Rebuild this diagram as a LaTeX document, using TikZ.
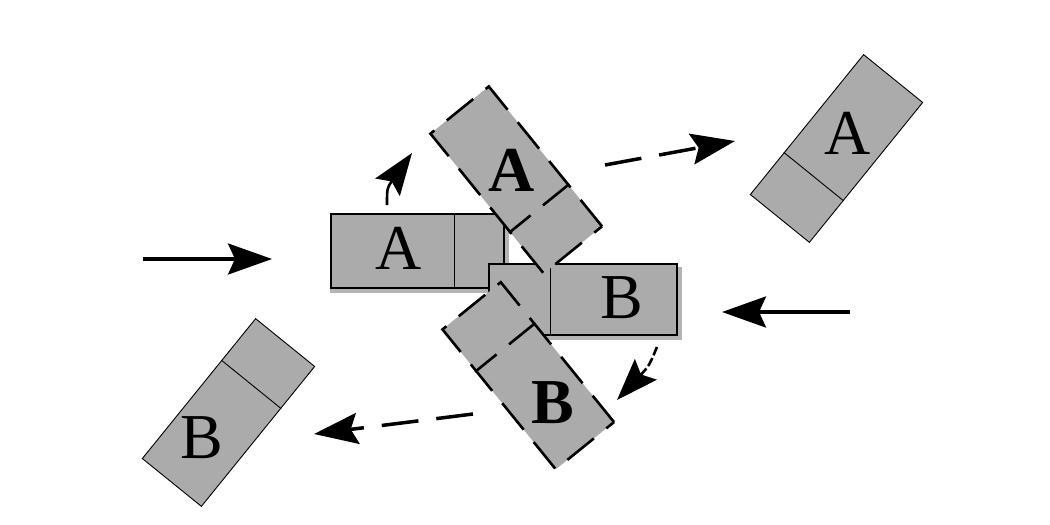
\documentclass[tikz,border=0pt]{standalone}
\usepackage{fontspec}
\setmainfont{Liberation Serif}
\usetikzlibrary{arrows.meta,calc}
\definecolor{boxgray}{RGB}{171,171,171}
\definecolor{shadowgray}{RGB}{180,180,180}
\begin{document}
\begin{tikzpicture}[x=1pt,y=-1pt,
  plainbox/.style={rectangle, fill=boxgray, draw=black, line width=1.1pt, inner sep=0pt},
  solidbox/.style={plainbox, line width=0.9pt, minimum width=180pt, minimum height=76pt},
  dashbox/.style={rectangle, fill=boxgray, draw=black, line width=2.6pt, dash pattern=on 34pt off 16pt, inner sep=0pt, minimum width=180pt, minimum height=75pt},
  thinline/.style={draw=black, line width=0.9pt},
  dashline/.style={draw=black, line width=2.6pt, dash pattern=on 34pt off 16pt},
  letter/.style={inner sep=0pt, font=\fontsize{64}{64}\selectfont},
  boldletter/.style={inner sep=0pt, font=\fontsize{64}{64}\selectfont\bfseries},
  move/.style={line width=3.5pt, -{Stealth[length=44pt,width=31pt,inset=7pt]}},
  dashmove/.style={move, dash pattern=on 37pt off 18pt},
  curvemove/.style={line width=2.6pt, -{Stealth[length=42pt,width=30pt,inset=7pt]}}
]
\useasboundingbox (0,0) rectangle (1050,525);

% centre box A
\node[plainbox, minimum width=173pt, minimum height=74pt] (ca) at (417.5,251) {};
\fill[shadowgray] ($(ca.south west)+(0,0)$) rectangle ($(ca.south east)+(4,4)$);
\fill[shadowgray] ($(ca.north east)+(0,4)$) rectangle ($(ca.south east)+(4,0)$);
\draw[thinline] ($(ca.north west)!0.71!(ca.north east)$) -- ($(ca.south west)!0.71!(ca.south east)$);
\node[letter] (cat) at (399,248) {A};

% centre box B
\node[plainbox, minimum width=188pt, minimum height=71pt] (cb) at (583,299.5) {};
\fill[shadowgray] (cb.south west) rectangle ($(cb.south east)+(4,4)$);
\fill[shadowgray] ($(cb.north east)+(0,4)$) rectangle ($(cb.south east)+(4,0)$);
\draw[thinline] ($(cb.north west)!0.33!(cb.north east)$) -- ($(cb.south west)!0.33!(cb.south east)$);
\node[letter] (cbt) at (622,298) {B};

% rotated dashed box A
\node[dashbox, rotate=-51] (da) at (516.25,180) {};
\draw[dashline] ($(da.north west)!0.7!(da.north east)$) -- ($(da.south west)!0.7!(da.south east)$);
\node[boldletter] (dat) at (512,170) {A};

% rotated dashed box B
\node[dashbox, rotate=-51] (db) at (528.25,375.75) {};
\draw[dashline] ($(db.north west)!0.3!(db.north east)$) -- ($(db.south west)!0.3!(db.south east)$);
\node[boldletter] (dbt) at (553,403) {B};

% outgoing box A (top right)
\node[solidbox, rotate=51] (ra) at (836.5,148.5) {};
\draw[thinline] ($(ra.north west)!0.3!(ra.north east)$) -- ($(ra.south west)!0.3!(ra.south east)$);
\node[letter] (rat) at (848,133) {A};

% outgoing box B (bottom left)
\node[solidbox, rotate=51] (rb) at (228.5,412.5) {};
\draw[thinline] ($(rb.north west)!0.7!(rb.north east)$) -- ($(rb.south west)!0.7!(rb.south east)$);
\node[letter] (rbt) at (202,438) {B};

% arrows
\coordinate (l1) at (143,259); \coordinate (l2) at (272,259);
\draw[move] (l1) -- (l2);
\coordinate (r1) at (850,312); \coordinate (r2) at (722,312);
\draw[move] (r1) -- (r2);
\coordinate (t1) at (605,165); \coordinate (t2) at (735,141);
\draw[dashmove] (t1) -- (t2);
\coordinate (b1) at (473,414); \coordinate (b2) at (314,434);
\draw[dashmove] (b1) -- (b2);
\coordinate (s1) at (387,205); \coordinate (sc) at (387,188); \coordinate (s2) at (412,153);
\draw[curvemove] (s1) .. controls (sc) .. (s2);
\coordinate (c1) at (657,347); \coordinate (cc) at (649,366); \coordinate (c2) at (617,400);
\draw[curvemove, dash pattern=on 9pt off 3pt] (c1) .. controls (cc) .. (c2);
\end{tikzpicture}
\end{document}
